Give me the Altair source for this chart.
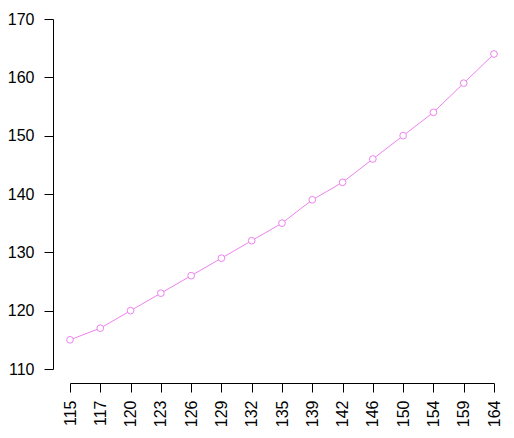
import altair as alt
import pandas as pd

categories = ["115", "117", "120", "123", "126", "129", "132", "135", "139", "142", "146", "150", "154", "159", "164"]
values = [115, 117, 120, 123, 126, 129, 132, 135, 139, 142, 146, 150, 154, 159, 164]

df = pd.DataFrame({"cat": categories, "val": values})

FONT = "Liberation Sans"

x = alt.X("cat:O", sort=categories, title=None,
          scale=alt.Scale(type="point", padding=0),
          axis=alt.Axis(labelAngle=270, labelAlign="right", labelBaseline="middle",
                        labelFontSize=16, labelFont=FONT, labelColor="black",
                        tickColor="black", tickSize=9, tickWidth=1,
                        domainColor="black", domainWidth=1,
                        labelPadding=8, offset=14, grid=False))
y = alt.Y("val:Q", title=None,
          scale=alt.Scale(domain=[110, 170], nice=False, zero=False),
          axis=alt.Axis(values=[110, 120, 130, 140, 150, 160, 170],
                        labelFontSize=16, labelFont=FONT, labelColor="black",
                        tickColor="black", tickSize=9, tickWidth=1,
                        domainColor="black", domainWidth=1,
                        labelPadding=10, offset=17, grid=False))

line = alt.Chart(df).mark_line(color="#EE82EE", strokeWidth=1).encode(x=x, y=y)
pts = alt.Chart(df).mark_point(shape="circle", size=45, filled=True, fill="white",
                               stroke="#EE82EE", strokeWidth=1, opacity=1).encode(x=x, y=y)

chart = (line + pts).properties(
    width=424, height=350,
    autosize=alt.AutoSizeParams(type="none"),
    padding={"left": 62, "top": 11, "right": 12, "bottom": 60},
).configure_view(stroke=None)

chart.save("out.html", embed_options={"renderer": "svg", "actions": False})
